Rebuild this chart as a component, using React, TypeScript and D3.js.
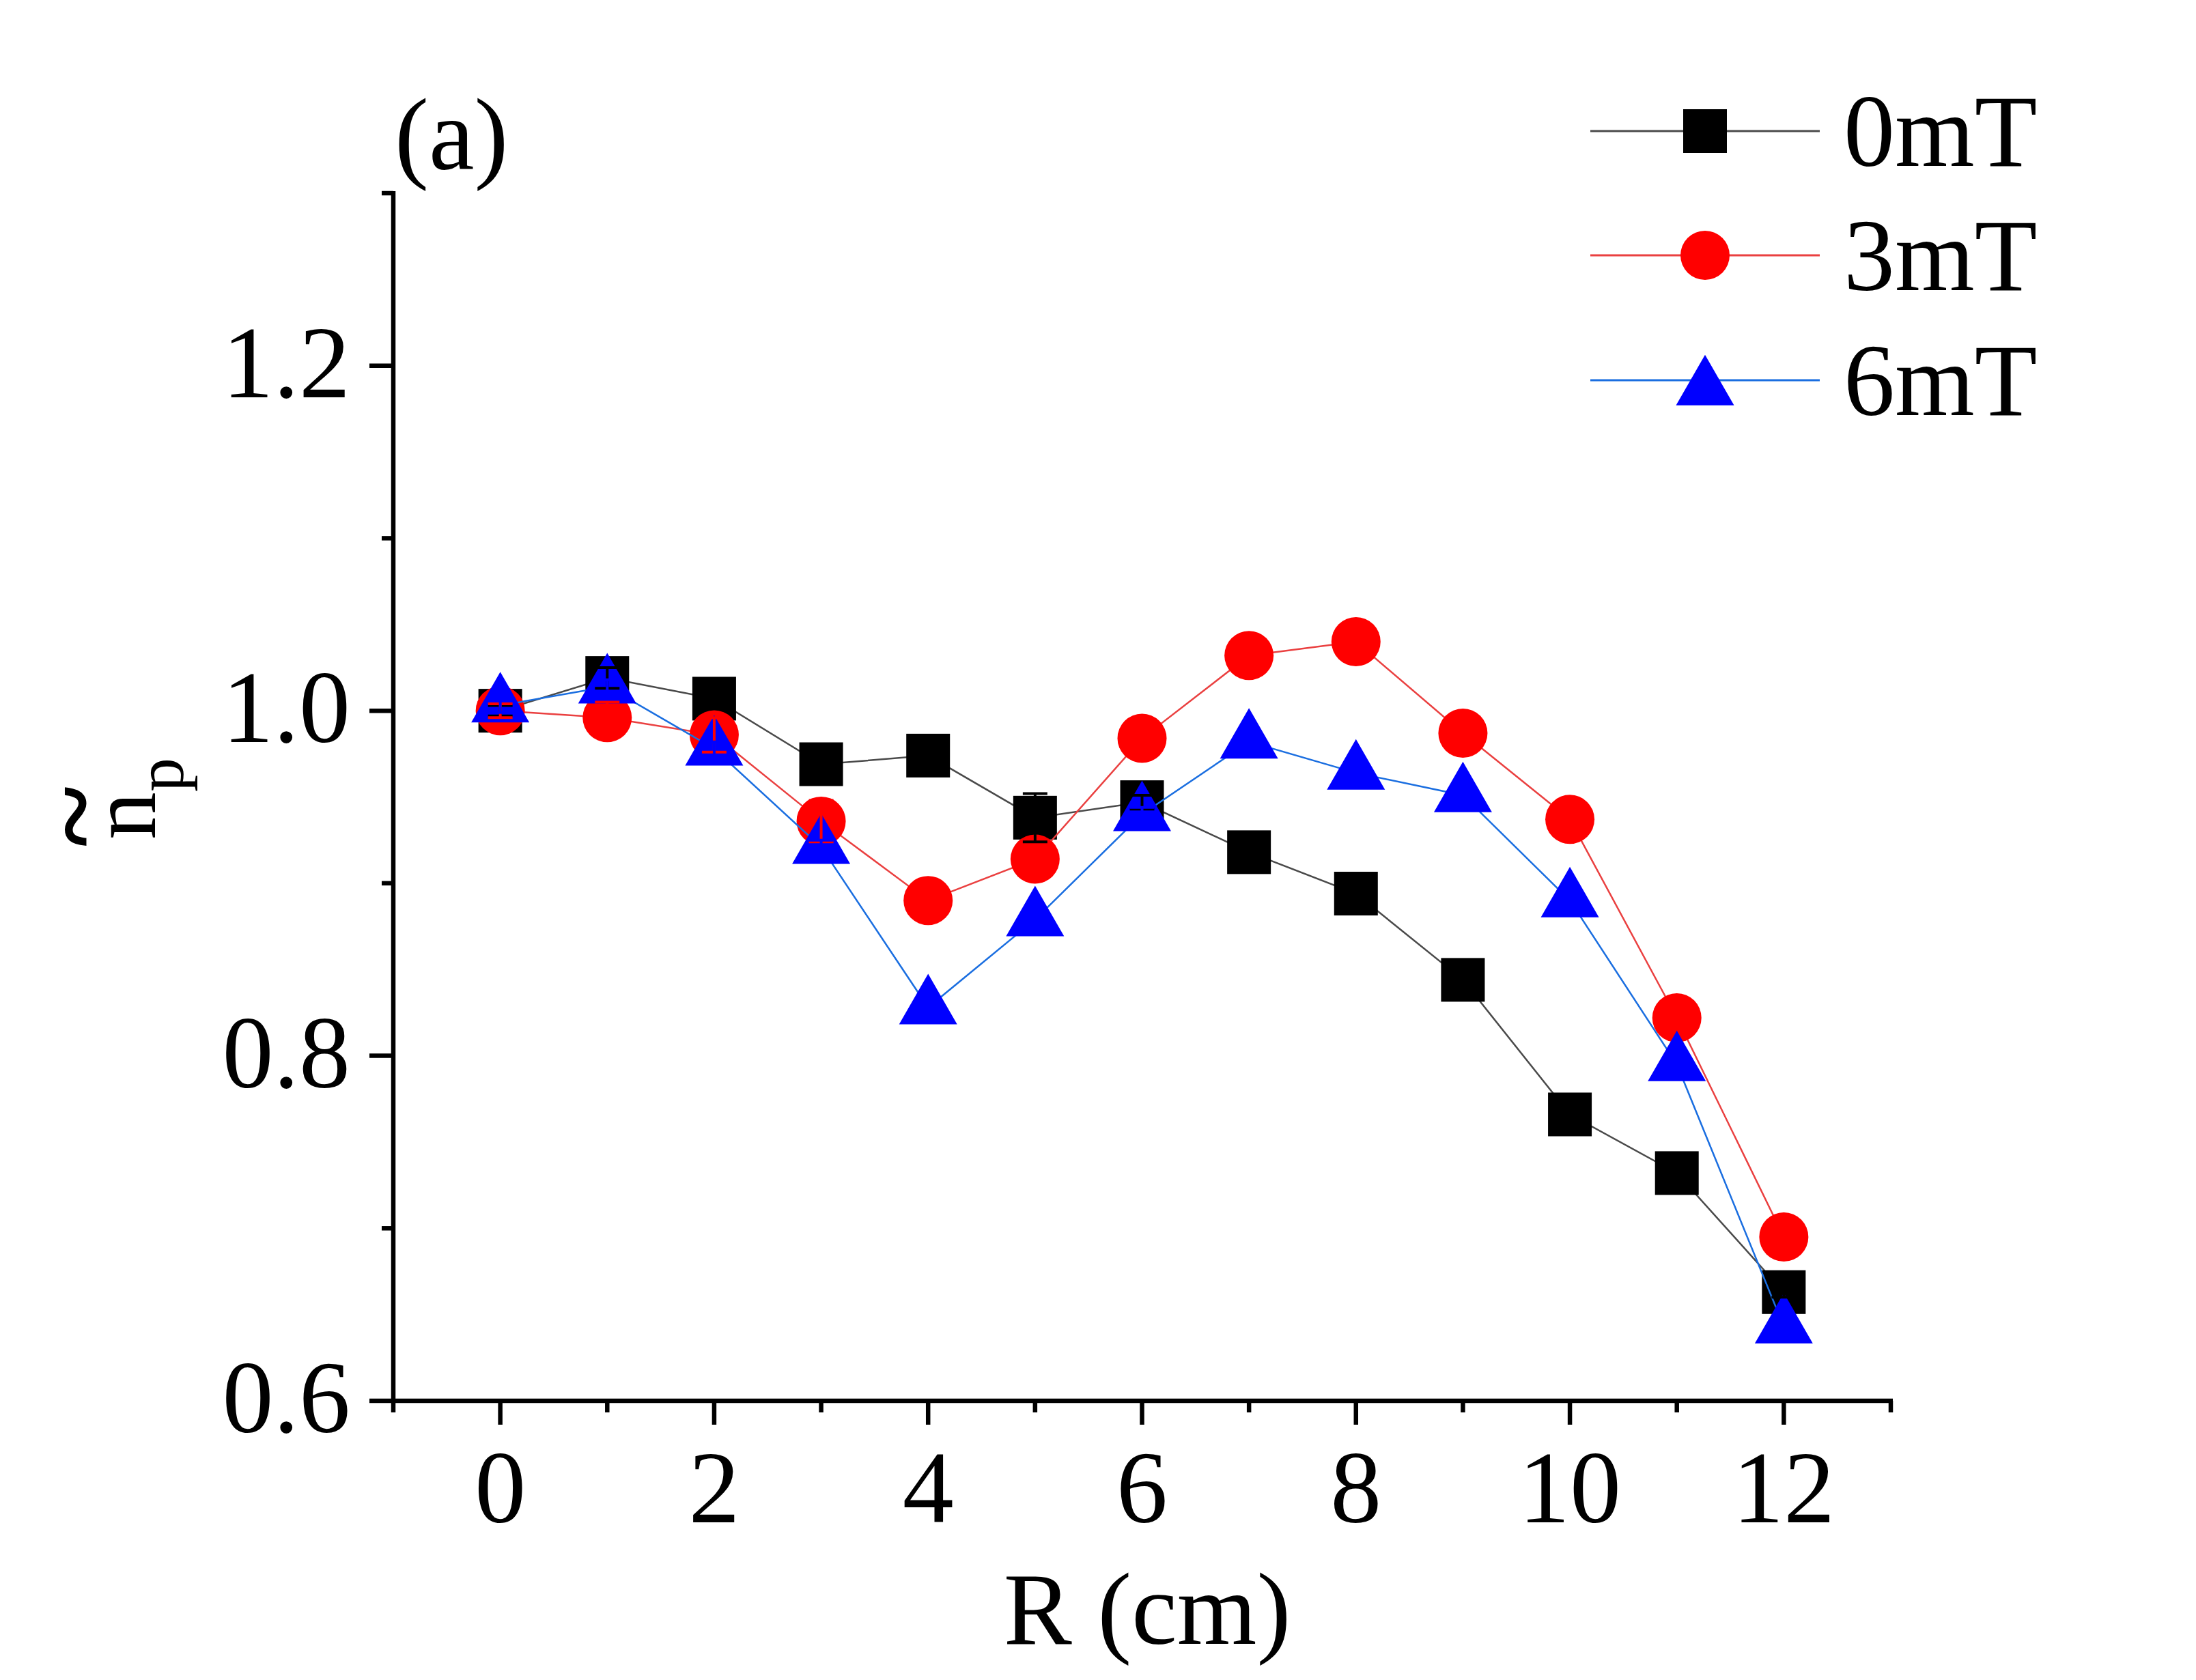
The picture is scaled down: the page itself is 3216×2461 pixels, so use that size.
import * as d3 from "d3";

// R positions (cm)
const radius = [0, 1, 2, 3, 4, 5, 6, 7, 8, 9, 10, 11, 12];

// normalised density for each field strength
const np0mT = [1.0, 1.019, 1.007, 0.969, 0.974, 0.938, 0.947, 0.918, 0.894, 0.844, 0.766, 0.732, 0.663];
const np3mT = [1.0, 0.996, 0.986, 0.936, 0.89, 0.914, 0.984, 1.032, 1.04, 0.987, 0.937, 0.822, 0.695];
const np6mT = [1.003, 1.014, 0.978, 0.921, 0.828, 0.879, 0.94, 0.982, 0.964, 0.951, 0.89, 0.795, 0.643];

// error bars (mostly hidden under the symbols)
const err0mT = [0.003, 0.006, 0.004, 0.003, 0.003, 0.014, 0.004, 0.006, 0.003, 0.003, 0.003, 0.003, 0.003];
const err3mT = [0.004, 0.009, 0.01, 0.012, 0.004, 0.004, 0.004, 0.004, 0.004, 0.004, 0.008, 0.004, 0.004];
const err6mT = [0.004, 0.004, 0.004, 0.004, 0.006, 0.004, 0.004, 0.004, 0.006, 0.004, 0.004, 0.004, 0.004];

const seriesNames = ["0mT", "3mT", "6mT"];
const xMajor = [0, 2, 4, 6, 8, 10, 12];
const xMinor = [-1, 1, 3, 5, 7, 9, 11, 13];
const yMajor = [0.6, 0.8, 1.0, 1.2];
const yMinor = [0.7, 0.9, 1.1, 1.3];

const W = 3216, H = 2461;
const font = "'Liberation Serif', 'Times New Roman', serif";

const x = d3.scaleLinear().domain([-1, 13]).range([576, 2769]);
const y = d3.scaleLinear().domain([0.6, 1.3]).range([2052, 283]);

const series = [
    { name: seriesNames[0], vals: np0mT, errs: err0mT, line: "#4a4a4a", fill: "#000000", sym: "square" },
    { name: seriesNames[1], vals: np3mT, errs: err3mT, line: "#ea4040", fill: "#ff0000", sym: "circle" },
    { name: seriesNames[2], vals: np6mT, errs: err6mT, line: "#1a6ee0", fill: "#0000ff", sym: "triangle" },
];

const triH = 74;
const triB = 85;

function Marker({ sym, cx, cy, fill }: { sym: string; cx: number; cy: number; fill: string }) {
    if (sym === "square") return <rect x={cx - 32} y={cy - 32} width={64} height={64} fill={fill} />;
    if (sym === "circle") return <ellipse cx={cx} cy={cy} rx={36} ry={36} fill={fill} />;
    // centroid sits on the data point
    const top = cy - (2 / 3) * triH;
    const bot = cy + (1 / 3) * triH;
    return <path d={`M${cx},${top}L${cx + triB / 2},${bot}L${cx - triB / 2},${bot}Z`} fill={fill} />;
}

export default function App() {
    const line = d3.line<number>().x((_, i) => x(radius[i])).y((d) => y(d));

    return (
        <svg width={W} height={H} style={{ position: "absolute", left: 0, top: 0, background: "#fff" }}
            fontFamily={font}>
            <rect width={W} height={H} fill="#fff" />

            {/* series */}
            {series.map((s) => (
                <g key={s.name}>
                    <path d={line(s.vals) || ""} fill="none" stroke={s.line} strokeWidth={2.5} />
                    {s.vals.map((v, i) => (
                        <Marker key={i} sym={s.sym} cx={x(radius[i])} cy={y(v)} fill={s.fill} />
                    ))}
                </g>
            ))}

            {/* error bars on top */}
            {series.map((s) => (
                <g key={s.name + "err"} stroke={s.fill} strokeWidth={4}>
                    {s.vals.map((v, i) => {
                        const cx = x(radius[i]);
                        const y1 = y(v + s.errs[i]);
                        const y2 = y(v - s.errs[i]);
                        return (
                            <g key={i}>
                                <line x1={cx} x2={cx} y1={y1} y2={y2} />
                                <line x1={cx - 18} x2={cx + 18} y1={y1} y2={y1} />
                                <line x1={cx - 18} x2={cx + 18} y1={y2} y2={y2} />
                            </g>
                        );
                    })}
                </g>
            ))}

            {/* axes */}
            <g stroke="#000" strokeWidth={6.5}>
                <line x1={x(-1) - 3} x2={x(13) + 3} y1={y(0.6)} y2={y(0.6)} />
                <line x1={x(-1)} x2={x(-1)} y1={y(0.6) + 3} y2={y(1.3) - 3} />
                {xMajor.map((t) => <line key={"xM" + t} x1={x(t)} x2={x(t)} y1={y(0.6)} y2={y(0.6) + 35} />)}
                {xMinor.map((t) => <line key={"xm" + t} x1={x(t)} x2={x(t)} y1={y(0.6)} y2={y(0.6) + 17} />)}
                {yMajor.map((t) => <line key={"yM" + t} x1={x(-1)} x2={x(-1) - 35} y1={y(t)} y2={y(t)} />)}
                {yMinor.map((t) => <line key={"ym" + t} x1={x(-1)} x2={x(-1) - 17} y1={y(t)} y2={y(t)} />)}
            </g>

            {/* tick labels */}
            <g fontSize={150} fill="#000">
                {xMajor.map((t) => (
                    <text key={"xl" + t} x={x(t)} y={2230} textAnchor="middle">{t}</text>
                ))}
                {yMajor.map((t) => (
                    <text key={"yl" + t} x={513} y={y(t) + 46} textAnchor="end">{t.toFixed(1)}</text>
                ))}
            </g>

            {/* axis titles */}
            <text x={1680} y={2408} fontSize={150} textAnchor="middle">R (cm)</text>
            <g transform="translate(227,1230) rotate(-90)">
                <text x={0} y={0} fontSize={140}>
                    n<tspan fontSize={100} dy={41}>p</tspan>
                </text>
                <text x={34} y={-60} fontSize={170} textAnchor="middle" stroke="#000" strokeWidth={3}>~</text>
            </g>

            <text x={578} y={248} fontSize={150}>(a)</text>

            {/* legend */}
            {series.map((s, i) => {
                const ly = [192, 374, 557][i];
                return (
                    <g key={"lg" + s.name}>
                        <line x1={2329} x2={2665} y1={ly} y2={ly} stroke={s.line} strokeWidth={3} />
                        <Marker sym={s.sym} cx={2497} cy={s.sym === "triangle" ? ly + 12 : ly} fill={s.fill} />
                        <text x={2700} y={ly + 51} fontSize={150}>{s.name}</text>
                    </g>
                );
            })}
        </svg>
    );
}
